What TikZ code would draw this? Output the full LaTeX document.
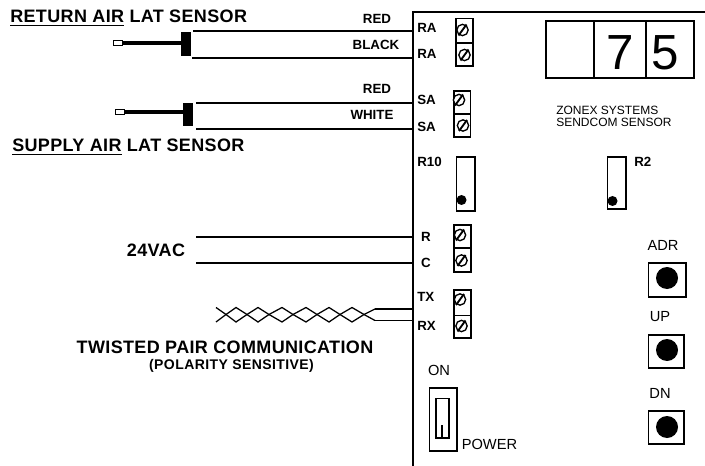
\documentclass[tikz,border=0pt]{standalone}
\usepackage{fontspec}
\setmainfont{Liberation Sans}
\newfontfamily\widefont[LetterSpace=2]{Liberation Sans}
\newfontfamily\midfont[LetterSpace=3]{Liberation Sans}
\usetikzlibrary{calc}
\tikzset{
  x=0.75pt,y=-0.75pt,
  wire/.style={draw=black,line width=1.3pt},
  boxb/.style={draw=black,line width=1.2pt},
  lbl/.style={font=\fontsize{10pt}{11pt}\selectfont\bfseries,inner sep=0pt,anchor=center},
  head/.style={font=\fontsize{13.5pt}{14pt}\widefont\selectfont\bfseries,inner sep=0pt,anchor=west},
  btnlbl/.style={font=\fontsize{11pt}{12pt}\selectfont,inner sep=0pt,anchor=center},
  screw/.style={circle,draw=black,line width=1pt,fill=white,minimum size=8.5pt,inner sep=0pt},
  probe/.style={draw=black,line width=.6pt,fill=white,minimum width=6.5pt,minimum height=3.5pt,inner sep=0pt},
  plug/.style={fill=black,minimum width=7.5pt,inner sep=0pt},
}
\newcommand{\screwat}[3]{\node[screw] (#1) at (#2,#3) {};\draw[line width=1.4pt] ($(#1)+(-4,5.5)$) -- ($(#1)+(4,-5.5)$);}
\begin{document}
\begin{tikzpicture}
\useasboundingbox (0,0) rectangle (705,466);
\fill[white] (0,0) rectangle (705,466);
% board
\coordinate (bt) at (705,12);\coordinate (bc) at (413,12);\coordinate (bb) at (413,466);
\draw[line width=1.1pt] (bt) -- (bc) -- (bb);
% headings
\node[head] (h1) at (10,18) {\underline{RETURN AIR} LAT SENSOR};
\node[head] (h2) at (12,147) {\underline{SUPPLY AIR} LAT SENSOR};
\node[head,anchor=center] (h3) at (225,347) {TWISTED PAIR COMMUNICATION};
\node[lbl,font=\fontsize{10.5pt}{11pt}\midfont\selectfont\bfseries] (h4) at (231.500,366) {(POLARITY SENSITIVE)};
\node[head,anchor=center] (v24) at (156,250) {24VAC};
% wire labels
\node[lbl] (lr1) at (377,19) {RED};
\node[lbl] (lb) at (376,45) {BLACK};
\node[lbl] (lr2) at (377,89) {RED};
\node[lbl] (lw) at (372,115) {WHITE};
% sensors
\node[plug,minimum height=18pt] (s1) at (186,44) {};
\node[probe] (p1) at (118,43) {};
\draw[line width=3.2pt] (p1.east) -- (p1.east -| s1.west);
\node[plug,minimum height=17.500pt] (s2) at (188,114.500) {};
\node[probe] (p2) at (120,112) {};
\draw[line width=3.2pt] (p2.east) -- (p2.east -| s2.west);
% wires
\coordinate (w1a) at (193,31);\coordinate (w1b) at (413,31);
\coordinate (w2a) at (192,58);\coordinate (w2b) at (413,58);
\coordinate (w3a) at (196,103);\coordinate (w3b) at (413,103);
\coordinate (w4a) at (196,129);\coordinate (w4b) at (413,129);
\coordinate (w5a) at (196,237);\coordinate (w5b) at (413,237);
\coordinate (w6a) at (196,263);\coordinate (w6b) at (413,263);
\foreach \a/\b in {w1a/w1b,w2a/w2b,w3a/w3b,w4a/w4b,w5a/w5b,w6a/w6b}{\draw[wire] (\a) -- (\b);}
% twisted pair
\coordinate (t1) at (375,309);\coordinate (t2) at (375,320.500);
\coordinate (t1e) at (413,309);\coordinate (t2e) at (413,320.500);
\draw[wire] (t1) -- (t1e);
\draw[wire,line width=1.1pt] (t2) -- (t2e);
\draw[line width=.95pt] (216,307.500)
 -- (226,314.500) -- (236,322) -- (247,314.500) -- (258,307.500) -- (269,314.500) -- (282,322) -- (293,314.500) -- (306,307.500) -- (317,314.500) -- (329,322) -- (340,314.500) -- (352,307.500) -- (364,314.500) -- (375,320.500);
\draw[line width=.95pt] (216,322)
 -- (226,314.500) -- (236,307.500) -- (247,314.500) -- (258,322) -- (269,314.500) -- (282,307.500) -- (293,314.500) -- (306,322) -- (317,314.500) -- (329,307.500) -- (340,314.500) -- (352,322) -- (364,314.500) -- (375,309);
% terminal labels
\node[lbl,anchor=west] (tra1) at (417,28) {RA};
\node[lbl,anchor=west] (tra2) at (417,54) {RA};
\node[lbl,anchor=west] (tsa1) at (417,100) {SA};
\node[lbl,anchor=west] (tsa2) at (417,127) {SA};
\node[lbl,anchor=west] (tr10) at (417,162) {R10};
\node[lbl] (tr) at (426,237) {R};
\node[lbl] (tc) at (426,263) {C};
\node[lbl,anchor=west] (ttx) at (417,297) {TX};
\node[lbl,anchor=west] (trx) at (417,325.500) {RX};
\node[lbl,anchor=west] (tr2) at (634,162) {R2};
% terminal blocks
\draw[boxb] (456,18.500) rectangle (473,66);\draw[boxb] (456.500,43) -- (473,43);
\draw[boxb] (454,91) rectangle (470.500,137);\draw[boxb] (454,114) -- (470.500,114);
\draw[boxb] (454,225) rectangle (471,272);\draw[boxb,line width=.8pt] (454,248) -- (471,248);
\draw[boxb] (454,290) rectangle (471,338);\draw[boxb,line width=.8pt] (454,315.500) -- (471,315.500);
\screwat{a1}{462.5}{30}\screwat{a2}{464.5}{55}
\screwat{a3}{459}{100}\screwat{a4}{463}{125.5}
\screwat{a5}{460}{235}\screwat{a6}{461.5}{260.5}
\screwat{a7}{460}{299.5}\screwat{a8}{461.5}{326}
% display
\draw[boxb] (546,21) rectangle (694,78);
\draw[boxb] (594,21) -- (594,78);
\draw[boxb] (646,21) -- (646,78);
\node[inner sep=0pt,font=\fontsize{37pt}{38pt}\selectfont] (d7) at (620,52.500) {7};
\node[inner sep=0pt,font=\fontsize{37pt}{38pt}\selectfont] (d5) at (665.500,52.500) {5};
\node[inner sep=0pt,anchor=west,font=\fontsize{9pt}{10pt}\selectfont] (z1) at (556,110) {ZONEX SYSTEMS};
\node[inner sep=0pt,anchor=west,font=\fontsize{9pt}{10pt}\selectfont] (z2) at (556,122) {SENDCOM SENSOR};
% pots
\draw[boxb] (456.500,157) rectangle (475,211);
\draw[boxb] (607.500,157) rectangle (626,209);
\fill (461.500,200) circle[radius=5];
\fill (612.500,201) circle[radius=5];
% buttons
\draw[boxb] (648.500,263) rectangle (686,297);\fill (667,278) circle[radius=11];
\draw[boxb] (648.500,335) rectangle (684,368);\fill (667,350) circle[radius=11];
\draw[boxb] (648.500,411) rectangle (684,444);\fill (667,427) circle[radius=11];
\node[btnlbl] (adr) at (663,245) {ADR};
\node[btnlbl] (up) at (660,317) {UP};
\node[btnlbl] (dn) at (660,393) {DN};
% power switch
\draw[boxb] (429.500,388) rectangle (457,451);
\draw[boxb] (436,398.500) rectangle (449,438);
\draw[line width=.9pt] (442,425) -- (442,438);
\node[btnlbl] (on) at (439,370) {ON};
\node[btnlbl] (pw) at (489.500,444.500) {POWER};
\end{tikzpicture}
\end{document}
